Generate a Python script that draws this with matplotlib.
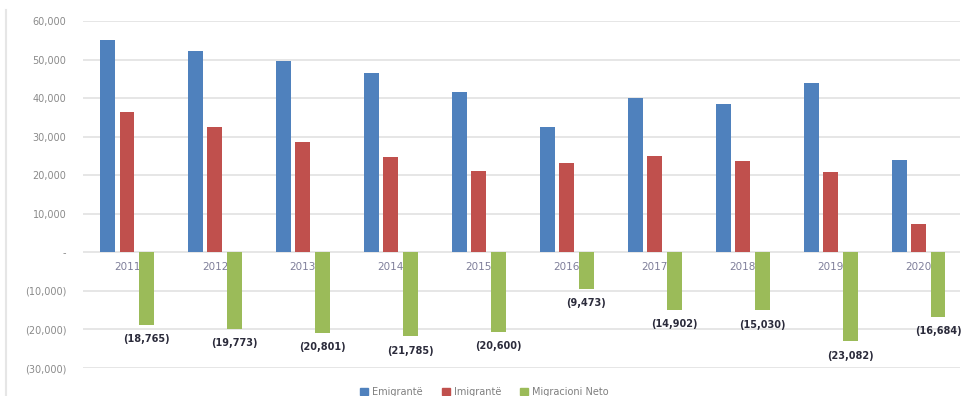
import numpy as np
import matplotlib.pyplot as plt
from matplotlib.lines import Line2D

# data
years = ["2011", "2012", "2013", "2014", "2015", "2016", "2017", "2018", "2019", "2020"]
emigranti = [55200, 52300, 49500, 46600, 41700, 32600, 39900, 38600, 44000, 24000]
imigranti = [36435, 32527, 28699, 24815, 21100, 23127, 24998, 23570, 20918, 7316]
neto = [-18765, -19773, -20801, -21785, -20600, -9473, -14902, -15030, -23082, -16684]
labels = ["Emigrantë", "Imigrantë", "Migracioni Neto"]
colors = ["#4F81BD", "#C0504D", "#9BBB59"]

def fmt(v):
    if v == 0:
        return "-"
    if v < 0:
        return "({:,})".format(-int(v))
    return "{:,}".format(int(v))

fig = plt.figure(figsize=(9.69, 3.96), dpi=100)
ax = fig.add_axes([83/969, 1-368/396, (960-83)/969, (368-21)/396])

x = np.arange(len(years))
step = 0.22
w = 0.17
ax.bar(x - step, emigranti, w, color=colors[0], zorder=2)
ax.bar(x, imigranti, w, color=colors[1], zorder=2)
ax.bar(x + step, neto, w, color=colors[2], zorder=3)

# data labels under the net migration bars
for xi, v in zip(x, neto):
    ax.text(xi + step, v - 3700, fmt(v), ha="center", va="center", fontsize=7,
            fontweight="bold", color="#2b2b3b", zorder=4)

# category labels just under the zero line
for xi, yr in zip(x, years):
    ax.text(xi, -3700, yr, ha="center", va="center", fontsize=7.5, color="#7f7f9a", zorder=1)

ax.set_xlim(-0.5, 9.47)
ax.set_ylim(-30000, 60000)
yt = np.arange(-30000, 60001, 10000)
ax.set_yticks(yt)
ax.set_yticklabels([fmt(v) for v in yt], fontsize=7, color="#8a8a8a")
ax.set_xticks([])
ax.tick_params(axis="y", length=0, pad=12)
ax.grid(axis="y", color="#e2e2e2", linewidth=1.2, zorder=0)
for s in ax.spines.values():
    s.set_visible(False)

# outer chart border on the left
fig.add_artist(Line2D([6/969, 6/969], [0, 1-10/396], color="#e6e6e6", linewidth=1.5))

handles = [plt.Rectangle((0, 0), 1, 1, color=c) for c in colors]
fig.legend(handles, labels, loc="center", bbox_to_anchor=(0.5, 1-392/396), ncol=3,
           frameon=False, fontsize=7, handlelength=0.8, handleheight=0.8,
           columnspacing=2.0, handletextpad=0.4, labelcolor="#7f7f7f")

fig.savefig("out.png", dpi=100)
